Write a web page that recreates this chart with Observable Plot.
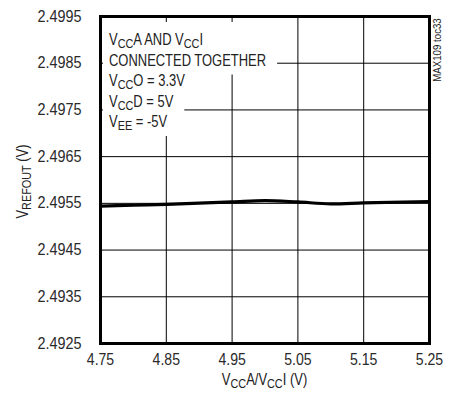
<!DOCTYPE html>
<html><head><meta charset="utf-8">
<script src="https://cdn.jsdelivr.net/npm/d3@7"></script>
<script src="https://cdn.jsdelivr.net/npm/@observablehq/plot@0.6"></script>
<style>
html,body{margin:0;padding:0;background:#fff;}
#chart svg text{font-family:"Liberation Sans",Arial,sans-serif;}
</style></head><body><div id="chart"></div>
<script>
// Data
const supplyV = [4.75, 4.80, 4.85, 4.95, 5.00, 5.05, 5.10, 5.15, 5.25];
const vRefOut = [2.49544, 2.49546, 2.49548, 2.49553, 2.49556, 2.49553, 2.49549, 2.49551, 2.49554];
const xTicks = [4.75, 4.85, 4.95, 5.05, 5.15, 5.25];
const yTicks = [2.4925, 2.4935, 2.4945, 2.4955, 2.4965, 2.4975, 2.4985, 2.4995];
// Text pieces: [text, isSubscript]
const noteLines = [
  [["V",0],["CC",1],["A AND V",0],["CC",1],["I",0]],
  [["CONNECTED TOGETHER",0]],
  [["V",0],["CC",1],["O = 3.3V",0]],
  [["V",0],["CC",1],["D = 5V",0]],
  [["V",0],["EE",1],[" = -5V",0]]
];
const yTitle = [["V",0],["REFOUT",1],[" (V)",0]];
const xTitle = [["V",0],["CC",1],["A/V",0],["CC",1],["I (V)",0]];
const sideLabel = "MAX109 toc33";

const data = supplyV.map((x, i) => ({x, y: vRefOut[i]}));
const W = 458, H = 394;
const chart = Plot.plot({
  width: W, height: H,
  marginTop: 16, marginBottom: 51, marginLeft: 100, marginRight: 29,
  style: {fontFamily: '"Liberation Sans",Arial,sans-serif', fontSize: "16px", color: "#222", background: "white"},
  x: {domain: [4.75, 5.25], label: null},
  y: {domain: [2.4925, 2.4995], label: null},
  marks: [
    Plot.gridX(xTicks, {stroke: "#000", strokeOpacity: 1, strokeWidth: 1}),
    Plot.gridY(yTicks, {stroke: "#000", strokeOpacity: 1, strokeWidth: 1}),
    Plot.axisX(xTicks, {tickSize: 0, tickPadding: 10, tickFormat: d3.format(".2f"), fontSize: 16, fill: "#2a2a2a"}),
    Plot.axisY(yTicks, {tickSize: 0, tickPadding: 19, tickFormat: d3.format(".4f"), fontSize: 16, fill: "#2a2a2a"}),
    Plot.line(data, {x: "x", y: "y", curve: "monotone-x", stroke: "#000", strokeWidth: 3.2}),
    Plot.frame({stroke: "#000", strokeWidth: 3})
  ]
});
document.getElementById("chart").append(chart);

const svg = d3.select(chart);
const sx = chart.scale("x"), sy = chart.scale("y");
const x0 = sx.apply(4.75), x1 = sx.apply(5.25);
const yTop = sy.apply(2.4995), yBot = sy.apply(2.4925);

// condense a text node horizontally around its anchor (narrow typeface look)
function condense(node, k) {
  const tr = node.getAttribute("transform") || "";
  const x = +(node.getAttribute("x") || 0);
  node.setAttribute("transform", `${tr} translate(${x} 0) scale(${k} 1) translate(${-x} 0)`);
}
svg.selectAll("g[aria-label='x-axis tick label'] text").each(function() { condense(this, 0.88); });
svg.selectAll("g[aria-label='y-axis tick label'] text").each(function() { condense(this, 0.9); });

function addRich(g, pieces, size, anchor) {
  const t = g.append("text").attr("font-size", size).attr("fill", "#222").attr("text-anchor", anchor);
  let shift = 0;
  pieces.forEach(([s, sub]) => {
    const ts = t.append("tspan").text(s);
    const want = sub ? size * 0.2 : 0;
    if (sub) ts.attr("font-size", size * 0.84);
    ts.attr("dy", want - shift);
    shift = want;
  });
  return t;
}

const K = 0.81;
// Annotation block
const ann = svg.append("g");
const bg = ann.append("g");
const txt = ann.append("g");
const lineStep = 20.5, firstBase = yTop + 29;
const texts = noteLines.map((pieces, i) => {
  const g = txt.append("g").attr("transform", `translate(${x0 + 9},${firstBase + i * lineStep}) scale(${K},1)`);
  return addRich(g, pieces, 16, "start");
});
const widths = texts.map(t => t.node().getComputedTextLength() * K);
texts.forEach((t, i) => {
  let w = widths[i];
  if (i < 2) w = Math.max(widths[0], widths[1]);
  const base = firstBase + i * lineStep;
  const top = i === 0 ? yTop + 6 : base - 14;
  bg.append("rect").attr("x", x0 + 3).attr("y", top)
    .attr("width", w + 17).attr("height", base + 9 - top).attr("fill", "white");
});

// Axis titles
addRich(svg.append("g").attr("transform", `translate(${x0 - 72},${(yTop + yBot) / 2 + 2}) rotate(-90) scale(${K},1)`), yTitle, 16, "middle");
addRich(svg.append("g").attr("transform", `translate(${(x0 + x1) / 2},${yBot + 42}) scale(${K},1)`), xTitle, 16, "middle");

// Side label
svg.append("g").attr("transform", `translate(${x1 + 12},${yTop + 34}) rotate(-90) scale(0.88,1)`)
  .append("text").attr("text-anchor", "middle").attr("font-size", 11).attr("fill", "#222")
  .text(sideLabel);
</script></body></html>
